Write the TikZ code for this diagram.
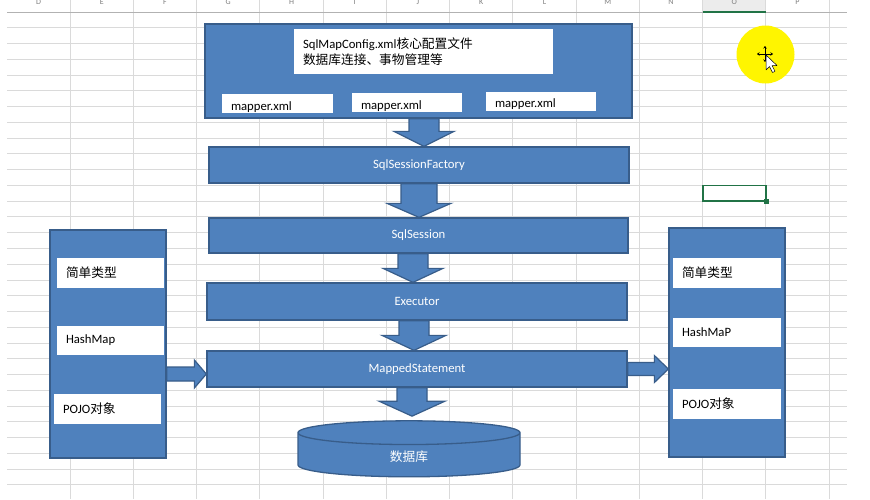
\documentclass[tikz,border=0pt]{standalone}
\usepackage{fontspec}
\setmainfont{Carlito}
\newfontfamily\cjk{Noto Sans CJK SC}
\usetikzlibrary{calc,shapes.geometric,arrows.meta}

\definecolor{boxblue}{HTML}{4F81BD}
\definecolor{boxedge}{HTML}{385D8A}
\definecolor{gridgray}{HTML}{DADADA}
\definecolor{selgreen}{HTML}{217346}
\definecolor{hiyellow}{RGB}{255,245,0}

\newcommand{\zh}[1]{{\cjk #1}}
\newcommand{\lab}{\fontsize{12.7}{16}\selectfont}

% block arrow downwards: from, to, x centre, shaft half width, head half width, head length
\newcommand{\blkdown}[6]{%
  \path[blkarrow] (#3-#4,0 |- #1) -- ($(#3-#4,0 |- #2)+(0,-#6)$) -- ($(#3-#5,0 |- #2)+(0,-#6)$)
    -- (#3,0 |- #2) -- ($(#3+#5,0 |- #2)+(0,-#6)$) -- ($(#3+#4,0 |- #2)+(0,-#6)$)
    -- (#3+#4,0 |- #1) -- cycle;}
% block arrow to the right: from, to, y centre, shaft half width, head half width, head length
\newcommand{\blkright}[6]{%
  \path[blkarrow] (#1 |- 0,#3-#4) -- ($(#2 |- 0,#3-#4)+(-#6,0)$) -- ($(#2 |- 0,#3-#5)+(-#6,0)$)
    -- (#2 |- 0,#3) -- ($(#2 |- 0,#3+#5)+(-#6,0)$) -- ($(#2 |- 0,#3+#4)+(-#6,0)$)
    -- (#1 |- 0,#3+#4) -- cycle;}

\begin{document}
\begin{tikzpicture}[x=1pt,y=-1pt]
  \tikzstyle{bluebox}=[rectangle,fill=boxblue,draw=boxedge,line width=1.3pt,text=white,font=\lab]
  \tikzstyle{whitebox}=[rectangle,fill=white,inner xsep=9pt,inner ysep=0pt,align=left,font=\lab]
  \tikzstyle{blkarrow}=[fill=boxblue,draw=boxedge,line width=1.2pt,line join=miter]
  \tikzstyle{gridline}=[draw=gridgray,line width=0.8pt]

  \fill[white] (0,0) rectangle (870,499);
  \useasboundingbox (0,0) rectangle (870,499);

  % sheet grid
  \fill[gray!15] (703,0) rectangle (766,12);
  \foreach \k in {0,...,30}
    \draw[gridline] (7,12+15.76*\k) -- (847,12+15.76*\k);
  \foreach \i in {0,...,12}
    \draw[gridline] (70+63.25*\i,0) -- (70+63.25*\i,499);
  \draw[draw=gray!60,line width=0.8pt] (7,12) -- (847,12);
  \draw[selgreen,line width=2pt] (703,11.5) -- (766,11.5);
  \foreach \c [count=\i from 0] in {D,...,P}
    \node[text=gray,font=\fontsize{8}{8}\selectfont] (col\c) at (38.5+63.25*\i,2) {\c};
  \draw[selgreen,line width=1.5pt] (703,185.4) rectangle (766,201.2);
  \fill[selgreen] (763.5,198.7) rectangle (768.5,203.7);

  % config box
  \node[bluebox,minimum width=427pt,minimum height=94pt] (cfg) at (418.5,71) {};
  \node[whitebox,text width=241pt,minimum height=45pt] (cfgtxt) at (423.5,51.5)
    {SqlMapConfig.xml\zh{核心配置文件}\\\zh{数据库连接、事物管理等}};
  \node[whitebox,text width=93pt,minimum height=19pt,text height=13pt,text depth=0pt] (m1) at (277.5,103.5) {mapper.xml};
  \node[whitebox,text width=92pt,minimum height=19pt,text height=13pt,text depth=0pt] (m2) at (407,102.5) {mapper.xml};
  \node[whitebox,text width=92pt,minimum height=19pt,text height=13pt,text depth=0pt] (m3) at (541,101) {mapper.xml};

  % main chain
  \node[bluebox,minimum width=420pt,minimum height=36pt] (fac) at (419,165) {SqlSessionFactory};
  \node[bluebox,minimum width=419pt,minimum height=35pt] (ses) at (418.5,235.5) {SqlSession};
  \node[bluebox,minimum width=420pt,minimum height=37pt] (exe) at (417,301.5) {Executor};
  \node[bluebox,minimum width=420pt,minimum height=36pt] (ms) at (417,369) {MappedStatement};
  \node[cylinder,shape border rotate=90,aspect=0.53,minimum width=222pt,minimum height=56pt,
    fill=boxblue,draw=boxedge,line width=1.3pt,text=white,font=\lab] (db) at (409,456.5) {\zh{数据库}};
  \coordinate (dbtop) at ($(db.north)+(0,-4)$);

  % input types
  \node[bluebox,minimum width=116pt,minimum height=228pt] (lbox) at (108,344) {};
  \node[whitebox,text width=89pt,minimum height=30pt] (l1) at (110.5,273) {\zh{简单类型}};
  \node[whitebox,text width=89pt,minimum height=29pt] (l2) at (110.5,340.5) {HashMap};
  \node[whitebox,text width=89pt,minimum height=30pt] (l3) at (107.5,409) {POJO\zh{对象}};

  % output types
  \node[bluebox,minimum width=116pt,minimum height=229pt] (rbox) at (727,342.5) {};
  \node[whitebox,text width=90pt,minimum height=30pt] (r1) at (727,273) {\zh{简单类型}};
  \node[whitebox,text width=90pt,minimum height=29pt] (r2) at (727,332.5) {HashMaP};
  \node[whitebox,text width=90pt,minimum height=30pt] (r3) at (727,404) {POJO\zh{对象}};

  \blkdown{cfg.south}{fac.north}{424}{15}{30}{15}
  \blkdown{fac.south}{ses.north}{419}{18}{32}{14}
  \blkdown{ses.south}{exe.north}{413}{15}{30}{14}
  \blkdown{exe.south}{ms.north}{414}{15}{32}{15}
  \blkdown{ms.south}{dbtop}{412}{15}{33}{15}
  \blkright{lbox.east}{ms.west}{374}{7}{14}{12}
  \blkright{ms.east}{rbox.west}{369}{6.5}{13.5}{14}

  % pointer highlight
  \fill[hiyellow] (765.5,54.5) circle (29);
  \foreach \d in {(0,-8),(0,8),(-8,0),(8,0)}
    \draw[line width=0.8pt,-{Stealth[length=2.5pt,width=3.5pt]}] (765,54) -- ++\d;
  \draw[fill=white,line width=0.5pt,line join=round] (766,55) -- (766,70) -- (769.5,66.5) -- (772.5,72.5)
    -- (775,71.3) -- (772,65.5) -- (777,65.5) -- cycle;
\end{tikzpicture}
\end{document}
